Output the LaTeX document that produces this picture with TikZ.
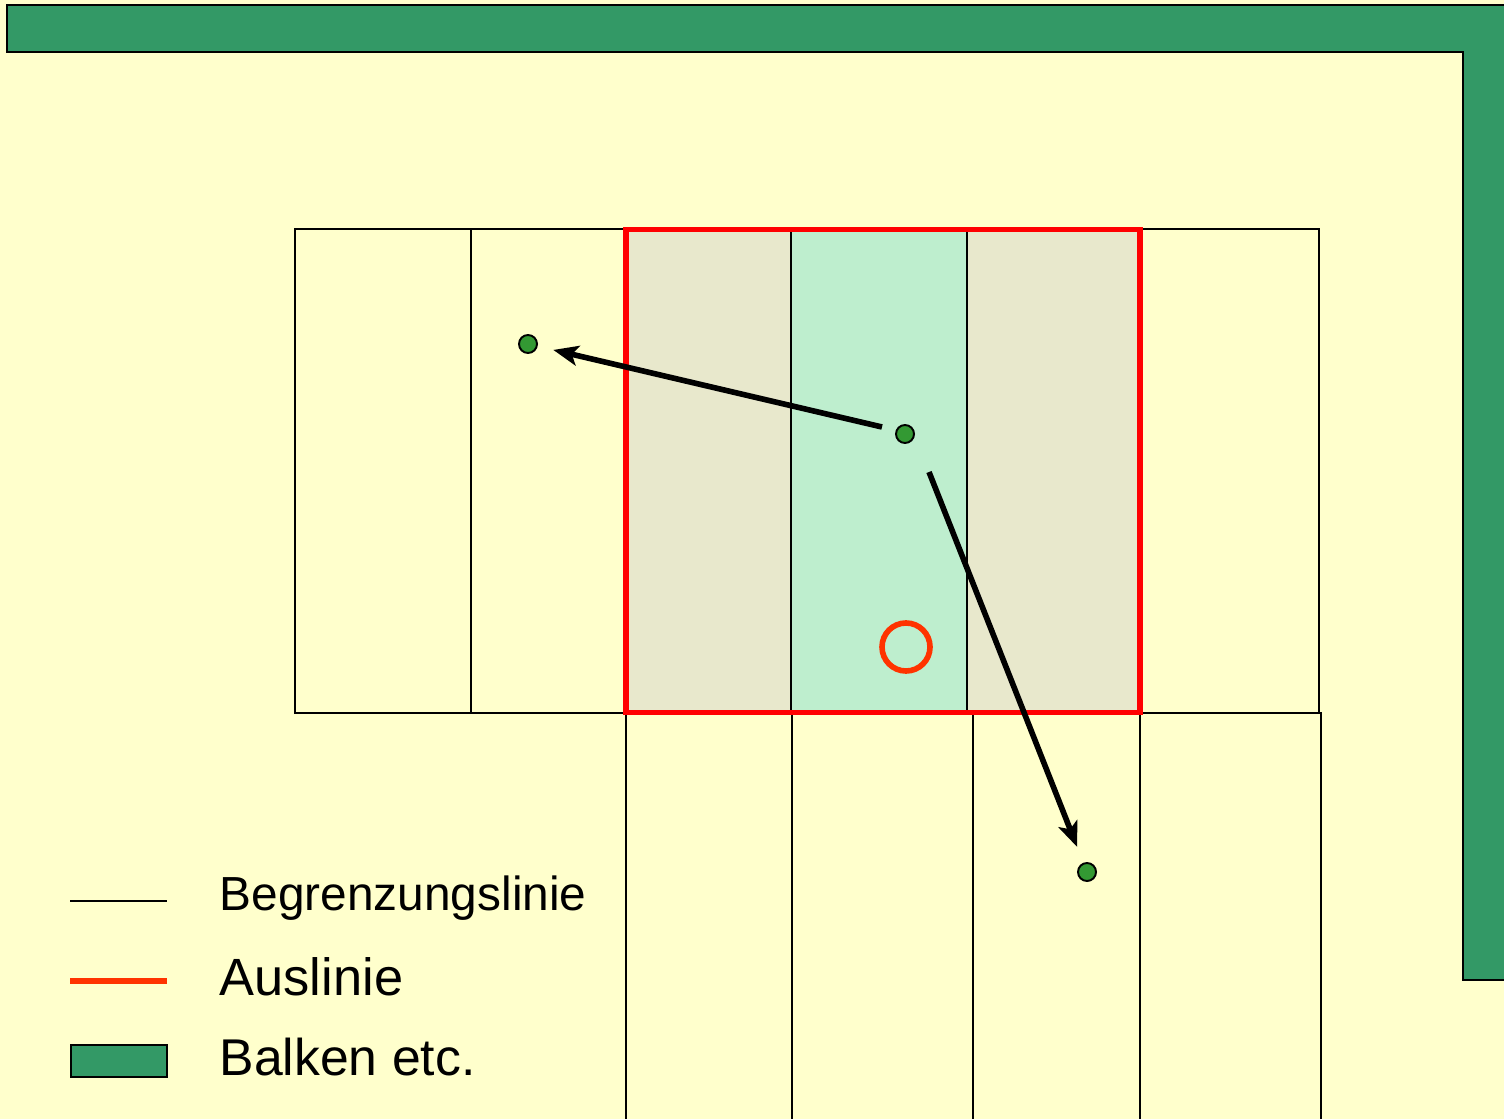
\documentclass[tikz,border=0pt]{standalone}
\usepackage{fontspec}
\setmainfont{Liberation Sans}
\usetikzlibrary{arrows.meta}
\definecolor{bgyellow}{HTML}{FFFFCC}
\definecolor{bargreen}{HTML}{339966}
\definecolor{dotgreen}{HTML}{339933}
\definecolor{beigefill}{HTML}{E8E8CC}
\definecolor{mintfill}{HTML}{BEEECE}
\definecolor{auslinie}{HTML}{FF3300}
\definecolor{redbox}{HTML}{FF0000}
\tikzset{
  gridline/.style={draw=black, line width=0.55pt},
  barstyle/.style={fill=bargreen, draw=black, line width=0.65pt},
  dot/.style={circle, fill=dotgreen, draw=black, line width=0.55pt, minimum size=0.18cm, inner sep=0pt},
  movearrow/.style={line width=1.6pt, -{Stealth[length=0.25cm, width=0.2cm, inset=0.06cm]}},
  legendtext/.style={anchor=base west, inner sep=0pt, text=black},
}
\begin{document}
\begin{tikzpicture}[x=0.01cm, y=-0.01cm]
\useasboundingbox (0,0) rectangle (1504,1119);
\fill[bgyellow] (0,0) rectangle (1504,1119);
\begin{scope}
\clip (0,0) rectangle (1504,1119);
% green bars
\draw[barstyle] (7,5) -- (1515,5) -- (1515,980) -- (1463,980) -- (1463,52) -- (7,52) -- cycle;
% fills
\fill[beigefill] (626,229) rectangle (791,713);
\fill[mintfill] (791,229) rectangle (967,713);
\fill[beigefill] (967,229) rectangle (1140,713);
% top row grid
\draw[gridline] (295,229) rectangle (1319,713);
\foreach \x in {471,626,791,967,1140} \draw[gridline] (\x,229) -- (\x,713);
% bottom row grid
\draw[gridline] (626,1130) -- (626,713) -- (1321,713) -- (1321,1130);
\foreach \x in {792,973,1140} \draw[gridline] (\x,713) -- (\x,1130);
\end{scope}
% red out line
\draw[redbox, line width=1.7pt] (626,229.5) rectangle (1140,712.5);
% dots
\node[dot] (p1) at (528,344) {};
\node[dot] (p0) at (905,434) {};
\node[dot] (p2) at (1087,872) {};
% arrows
\coordinate (a1s) at (882,427);
\coordinate (a2s) at (929,472);
\draw[movearrow, shorten >=0.16cm] (a1s) -- (p1);
\draw[movearrow, shorten >=0.17cm] (a2s) -- (p2);
% red circle
\node[circle, draw=auslinie, line width=1.6pt, minimum size=0.48cm, inner sep=0pt] (ring) at (906,647) {};
% legend
\draw[black, line width=0.5pt] (70,901) -- (167,901);
\draw[auslinie, line width=1.6pt] (70,981) -- (167,981);
\draw[barstyle] (71,1045) rectangle (167,1077);
\node[legendtext, font=\fontsize{13.6}{16}\selectfont] (t1) at (219,910) {Begrenzungslinie};
\node[legendtext, font=\fontsize{14.9}{18}\selectfont] (t2) at (219,995) {Auslinie};
\node[legendtext, font=\fontsize{14.7}{18}\selectfont] (t3) at (219,1075) {Balken etc.};
\end{tikzpicture}
\end{document}
